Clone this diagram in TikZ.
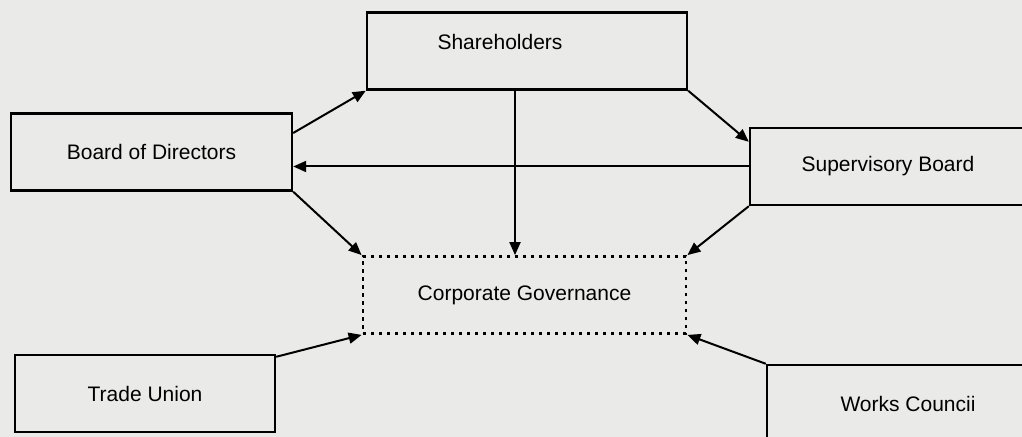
\documentclass[tikz,border=0pt]{standalone}
\usepackage{fontspec}
\setmainfont{Liberation Sans}
\usetikzlibrary{arrows.meta}
\definecolor{paper}{RGB}{234,234,232}
\begin{document}
\begin{tikzpicture}[x=0.5pt,y=-0.5pt]
	\tikzstyle{Box} = [rectangle, draw, line width=1.2pt, minimum height=38.5pt, inner sep=0pt, font=\fontsize{10.5}{12}\selectfont]
	\tikzstyle{Arrow} = [line width=1pt, -{Triangle[length=6.5pt,width=5.5pt]}]
	\useasboundingbox (0,0) rectangle (1022,437);
	\fill[paper] (0,0) rectangle (1022,437);
	\node (Share) at (527,51) [Box, minimum width=160pt, label={[font=\fontsize{10.5}{12}\selectfont, xshift=-13.5pt, yshift=4.5pt]center:Shareholders}] {};
	\node (BoD) at (151.5,152) [Box, minimum width=140.5pt] {Board of Directors};
	\node (SB) at (888,166.5) [Box, minimum width=138pt] {Supervisory Board};
	\node (CG) at (524.5,295) [Box, line width=1.4pt, dash pattern=on 1.6pt off 2.4pt, minimum width=161.5pt] {Corporate Governance};
	\node (TU) at (145,393.5) [Box, minimum width=130pt] {Trade Union};
	\node (WC) at (908,403.5) [Box, minimum width=141pt] {Works Councii};
	\draw[Arrow] ([yshift=9.5pt]BoD.east) to (Share.south west);
	\draw[Arrow] (Share.south east) to ([yshift=-7.5pt]SB.north west);
	\draw[Arrow] (SB.west) to (SB.west -| BoD.east);
	\draw[Arrow] ([xshift=-6pt]Share.south) to ([xshift=-6pt]Share.south |- CG.north);
	\draw[Arrow] (BoD.south east) to (CG.north west);
	\draw[Arrow] (SB.south west) to (CG.north east);
	\draw[Arrow] ([yshift=-1.5pt]TU.north east) to (CG.south west);
	\draw[Arrow] (WC.north west) to (CG.south east);
\end{tikzpicture}
\end{document}
